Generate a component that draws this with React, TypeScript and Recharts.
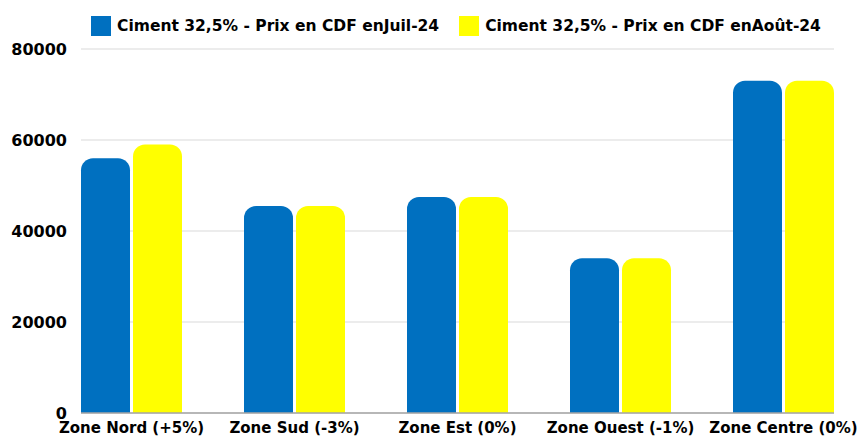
import { Bar, BarChart, CartesianGrid, Legend, XAxis, YAxis } from 'recharts'

const zones = [
  'Zone Nord (+5%)',
  'Zone Sud (-3%)',
  'Zone Est (0%)',
  'Zone Ouest (-1%)',
  'Zone Centre (0%)',
]
const juil = [56000, 45500, 47500, 34000, 73000]
const aout = [59000, 45500, 47500, 34000, 73000]
const yTicks = [0, 20000, 40000, 60000, 80000]

const seriesJuil = 'Ciment 32,5% - Prix en CDF enJuil-24'
const seriesAout = 'Ciment 32,5% - Prix en CDF enAoût-24'

const data = zones.map((name, i) => ({ name, juil: juil[i], aout: aout[i] }))

const font = '"DejaVu Sans", sans-serif'

function LegendBox() {
  const items = [
    { label: seriesJuil, color: '#0070C0' },
    { label: seriesAout, color: '#FFFF00' },
  ]
  return (
    <div
      style={{
        height: 39,
        boxSizing: 'border-box',
        paddingTop: 6,
        paddingLeft: 78,
        display: 'flex',
        justifyContent: 'center',
        fontFamily: font,
        fontWeight: 'bold',
        fontSize: 15.5,
        color: '#000',
      }}
    >
      {items.map((it, i) => (
        <div
          key={it.label}
          style={{ display: 'flex', alignItems: 'center', height: 20, marginLeft: i ? 20 : 0 }}
        >
          <span style={{ width: 20, height: 20, background: it.color, marginRight: 6 }} />
          <span>{it.label}</span>
        </div>
      ))}
    </div>
  )
}

export default function App() {
  return (
    <div style={{ position: 'absolute', left: 0, top: 0, background: '#fff' }}>
      <BarChart
        width={860}
        height={438}
        data={data}
        margin={{ top: 10, right: 26, bottom: 0, left: 0 }}
        barSize={49}
        barGap={3}
      >
        <CartesianGrid vertical={false} stroke='#d9d9d9' />
        <Legend verticalAlign='top' align='center' content={() => <LegendBox />} />
        <XAxis
          dataKey='name'
          height={25}
          padding={{ left: -31, right: -31 }}
          tickLine={false}
          tickMargin={3}
          axisLine={{ stroke: '#a6a6a6', strokeWidth: 1.5 }}
          tick={{ fill: '#000', fontSize: 15, fontWeight: 'bold', fontFamily: font }}
          interval={0}
        />
        <YAxis
          width={81}
          domain={[0, 80000]}
          ticks={yTicks}
          axisLine={false}
          tickLine={false}
          tickMargin={8}
          tick={{ fill: '#000', fontSize: 16, fontWeight: 'bold', fontFamily: font }}
        />
        <Bar
          dataKey='juil'
          name={seriesJuil}
          fill='#0070C0'
          radius={[12, 12, 0, 0]}
          isAnimationActive={false}
        />
        <Bar
          dataKey='aout'
          name={seriesAout}
          fill='#FFFF00'
          radius={[12, 12, 0, 0]}
          isAnimationActive={false}
        />
      </BarChart>
    </div>
  )
}
